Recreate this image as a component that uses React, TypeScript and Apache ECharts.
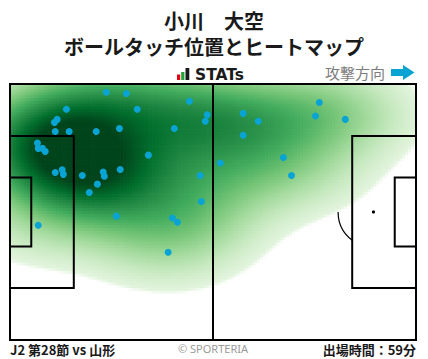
import React, { useEffect, useRef } from "react";
import * as echarts from "echarts";

// Pitch dimensions (metres)
const PITCH_LENGTH = 105;
const PITCH_WIDTH = 68;

// Ball touch positions (metres from own goal line, metres from top touch line)
const touchX = [
  24.9, 30.1, 14.6, 32.9, 46.4, 51.0, 50.5, 12.2, 11.5, 11.7, 15.3, 22.3, 28.3, 42.5,
  7.1, 7.3, 8.4, 9.1, 35.8, 54.4, 11.7, 13.5, 13.8, 18.7, 24.1, 24.4, 28.5, 22.6,
  20.5, 49.2, 49.5, 27.5, 42.0, 43.3, 7.3, 40.9, 80.0, 60.3, 64.2, 79.0, 86.7, 60.3,
  70.7, 72.8,
];
const touchY = [
  2.2, 2.5, 6.7, 6.7, 4.6, 8.2, 9.9, 9.4, 10.2, 12.6, 12.6, 12.6, 11.8, 11.8,
  15.7, 17.1, 17.1, 17.9, 18.9, 21.0, 23.5, 22.8, 24.0, 24.3, 23.4, 24.5, 22.7, 26.6,
  28.8, 24.3, 31.2, 35.1, 35.6, 36.7, 37.5, 44.7, 4.9, 7.8, 9.9, 8.5, 9.4, 13.6,
  19.5, 24.3,
];

const titleLines = ["小川　大空", "ボールタッチ位置とヒートマップ"];
const logoText = "STATs";
const directionLabel = "攻撃方向";
const matchLabel = "J2 第28節 vs 山形";
const creditLabel = "© SPORTERIA";
const minutesLabel = "出場時間：59分";

const GREENS = [
  "#f7fcf5", "#e5f5e0", "#c7e9c0", "#a1d99b", "#74c476",
  "#41ab5d", "#238b45", "#006d2c", "#00441b",
];

// Kernel density settings (metres)
const CELL = 0.75;
const THRESH = 0.04;
const EDGE = 0.008;
const BW_X = 13;
const BW_Y = 7.5;
const GAMMA = 0.65;
const COLOR_TOP = 0.88;

function buildDensity(xs: number[], ys: number[]) {
  const n = xs.length;
  const cells: number[][] = [];
  let max = 0;
  for (let gx = 0; gx < PITCH_LENGTH; gx += CELL) {
    for (let gy = 0; gy < PITCH_WIDTH; gy += CELL) {
      const cx = gx + CELL / 2, cy = gy + CELL / 2;
      let d = 0;
      for (let i = 0; i < n; i++) {
        const dx = (cx - xs[i]) / BW_X, dy = (cy - ys[i]) / BW_Y;
        d += Math.exp(-0.5 * (dx * dx + dy * dy));
      }
      if (d > max) max = d;
      cells.push([gx, gy, d]);
    }
  }
  return cells
    .map((c) => [c[0], c[1], c[2] / max])
    .filter((c) => c[2] >= THRESH - EDGE)
    .map((c) => [
      c[0],
      c[1],
      Math.pow(Math.max(c[2], THRESH), GAMMA),
      Math.min(1, (c[2] - (THRESH - EDGE)) / EDGE),
    ]);
}

export default function App() {
  const ref = useRef<HTMLDivElement>(null);
  useEffect(() => {
    const chart = echarts.init(ref.current!, null, { renderer: "svg" });
    const density = buildDensity(touchX, touchY);
    const points = touchX.map((x, i) => [x, touchY[i]]);
    const jp = "'Noto Sans CJK JP', 'Noto Sans', sans-serif";

    const option: any = {
      animation: false,
      grid: { left: 10, top: 84, width: 406, height: 256 },
      xAxis: { type: "value", min: 0, max: PITCH_LENGTH, show: false },
      yAxis: { type: "value", min: 0, max: PITCH_WIDTH, inverse: true, show: false },
      visualMap: {
        show: false,
        type: "continuous",
        seriesIndex: 0,
        dimension: 2,
        min: 0,
        max: COLOR_TOP,
        inRange: { color: GREENS },
        outOfRange: { color: GREENS[GREENS.length - 1] },
      },
      graphic: [
        {
          type: "text", x: 214, y: 20,
          style: { text: titleLines[0], font: `bold 20px ${jp}`, fill: "#1a1a1a", align: "center", verticalAlign: "middle" },
        },
        {
          type: "text", x: 214, y: 46.5,
          style: { text: titleLines[1], font: `bold 20px ${jp}`, fill: "#1a1a1a", align: "center", verticalAlign: "middle" },
        },
        { type: "rect", shape: { x: 177, y: 74.5, width: 3.2, height: 5.5 }, style: { fill: "#e60012" } },
        { type: "rect", shape: { x: 181.2, y: 72, width: 3.2, height: 8 }, style: { fill: "#22a339" } },
        { type: "rect", shape: { x: 185.5, y: 68, width: 3.8, height: 12 }, style: { fill: "#1a1a1a" } },
        {
          type: "text", x: 195, y: 74.5,
          style: { text: logoText, font: "bold 15.5px 'DejaVu Sans', sans-serif", fill: "#1a1a1a", verticalAlign: "middle" },
        },
        {
          type: "text", x: 385, y: 72.5,
          style: { text: directionLabel, font: `15px ${jp}`, fill: "#7d7d7d", align: "right", verticalAlign: "middle" },
        },
        {
          type: "polygon",
          shape: { points: [[391, 69], [403, 69], [403, 65], [414.5, 72.5], [403, 80], [403, 76], [391, 76]] },
          style: { fill: "#0aa4d4" },
        },
        {
          type: "text", x: 10, y: 349,
          style: { text: matchLabel, font: `bold 13px ${jp}`, fill: "#1a1a1a", verticalAlign: "middle" },
        },
        {
          type: "text", x: 213, y: 348,
          style: { text: creditLabel, font: "11px 'Noto Sans', sans-serif", fill: "#9a9a9a", align: "center", verticalAlign: "middle" },
        },
        {
          type: "text", x: 416, y: 349,
          style: { text: minutesLabel, font: `bold 13px ${jp}`, fill: "#1a1a1a", align: "right", verticalAlign: "middle" },
        },
      ],
      series: [
        {
          type: "custom",
          name: "heat",
          z: 1,
          clip: true,
          silent: true,
          data: density,
          renderItem: (params: any, api: any) => {
            const x = api.value(0), y = api.value(1);
            const p0 = api.coord([x, y]);
            const p1 = api.coord([x + CELL, y + CELL]);
            return {
              type: "rect",
              shape: {
                x: Math.min(p0[0], p1[0]),
                y: Math.min(p0[1], p1[1]),
                width: Math.abs(p1[0] - p0[0]) + 0.7,
                height: Math.abs(p1[1] - p0[1]) + 0.7,
              },
              style: { fill: api.visual("color"), opacity: api.value(3) },
            };
          },
        },
        {
          type: "custom",
          name: "pitch",
          z: 2,
          silent: true,
          data: [[0]],
          renderItem: (params: any, api: any) => {
            const c = (x: number, y: number) => api.coord([x, y]);
            const line = { stroke: "#000", lineWidth: 2, fill: null };
            const box = (x0: number, y0: number, x1: number, y1: number) => {
              const a = c(x0, y0), b = c(x1, y1);
              return {
                type: "rect",
                shape: { x: Math.min(a[0], b[0]), y: Math.min(a[1], b[1]), width: Math.abs(b[0] - a[0]), height: Math.abs(b[1] - a[1]) },
                style: line,
              };
            };
            const mid = PITCH_WIDTH / 2;
            const pa = 40.32 / 2, ga = 18.32 / 2;
            const spot = c(PITCH_LENGTH - 11, mid);
            const r = c(PITCH_LENGTH, mid)[0] - c(PITCH_LENGTH - 9.15, mid)[0];
            const a0 = Math.PI - Math.acos(5.5 / 9.15);
            return {
              type: "group",
              children: [
                box(0, 0, PITCH_LENGTH, PITCH_WIDTH),
                { type: "line", shape: { x1: c(52.5, 0)[0], y1: c(52.5, 0)[1], x2: c(52.5, PITCH_WIDTH)[0], y2: c(52.5, PITCH_WIDTH)[1] }, style: line },
                box(0, mid - pa, 16.5, mid + pa),
                box(0, mid - ga, 5.5, mid + ga),
                box(PITCH_LENGTH - 16.5, mid - pa, PITCH_LENGTH, mid + pa),
                box(PITCH_LENGTH - 5.5, mid - ga, PITCH_LENGTH, mid + ga),
                { type: "circle", shape: { cx: spot[0], cy: spot[1], r: 1.6 }, style: { fill: "#000" } },
                {
                  type: "arc",
                  shape: { cx: spot[0], cy: spot[1], r, startAngle: a0, endAngle: Math.PI, clockwise: true },
                  style: { stroke: "#000", lineWidth: 1.2, fill: null },
                },
              ],
            };
          },
        },
        {
          type: "scatter",
          name: "touches",
          z: 3,
          data: points,
          symbolSize: 7,
          itemStyle: { color: "#0aa4d4", opacity: 1 },
          silent: true,
        },
      ],
    };
    chart.setOption(option);
    return () => chart.dispose();
  }, []);
  return <div ref={ref} style={{ position: "absolute", left: 0, top: 0, width: 428, height: 359 }} />;
}
